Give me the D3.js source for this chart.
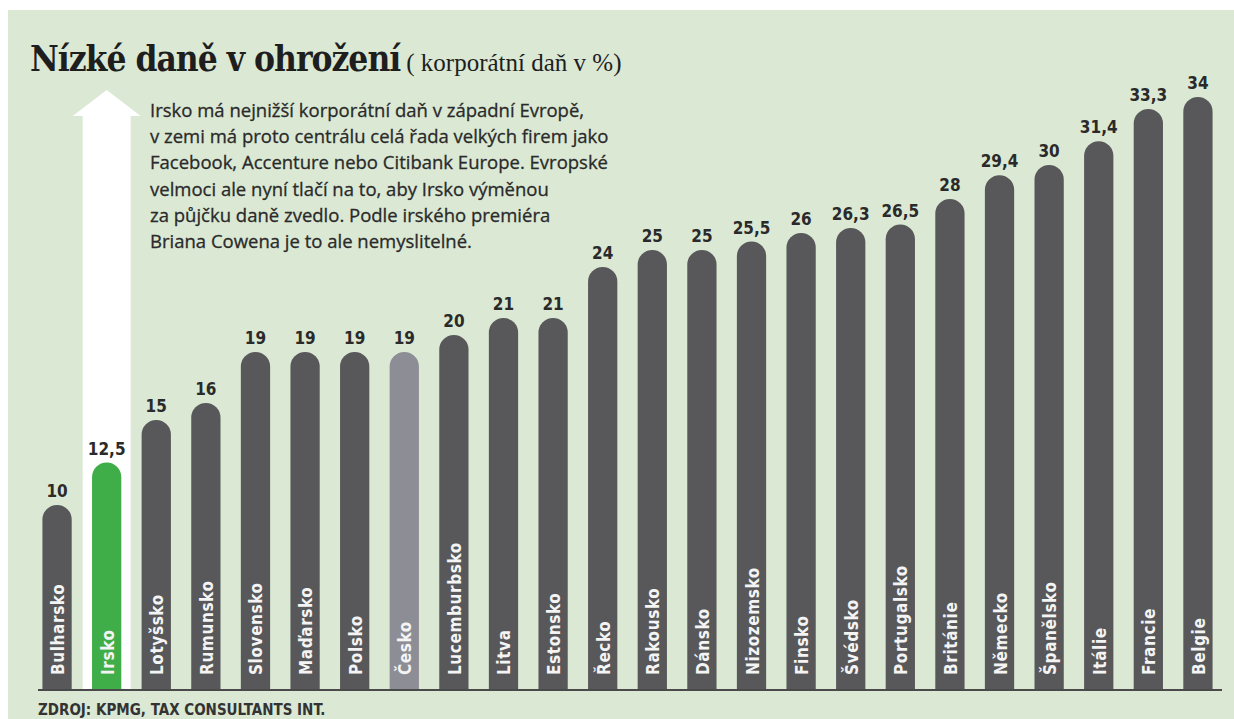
<!DOCTYPE html>
<html>
<head>
<meta charset="utf-8">
<script src="https://cdn.jsdelivr.net/npm/d3@7"></script>
<style>
  html, body { margin: 0; padding: 0; background: #fff; }
  svg { display: block; }
</style>
</head>
<body>
<svg id="graf" width="1234" height="719"></svg>
<script>
// data
const zeme = ["Bulharsko", "Irsko", "Lotyšsko", "Rumunsko", "Slovensko", "Maďarsko", "Polsko", "Česko",
  "Lucemburbsko", "Litva", "Estonsko", "Řecko", "Rakousko", "Dánsko", "Nizozemsko", "Finsko",
  "Švédsko", "Portugalsko", "Británie", "Německo", "Španělsko", "Itálie", "Francie", "Belgie"];
const dan = [10, 12.5, 15, 16, 19, 19, 19, 19, 20, 21, 21, 24, 25, 25, 25.5, 26, 26.3, 26.5, 28, 29.4, 30, 31.4, 33.3, 34];
const popisky = ["10", "12,5", "15", "16", "19", "19", "19", "19", "20", "21", "21", "24", "25", "25", "25,5", "26", "26,3", "26,5", "28", "29,4", "30", "31,4", "33,3", "34"];
const zvyraznena = "Irsko";
const domaci = "Česko";

const titulek = "Nízké daně v ohrožení";
const podtitulek = "( korporátní daň v %)";
const poznamka = [
  "Irsko má nejnižší korporátní daň v západní Evropě,",
  "v zemi má proto centrálu celá řada velkých firem jako",
  "Facebook, Accenture nebo Citibank Europe. Evropské",
  "velmoci ale nyní tlačí na to, aby Irsko výměnou",
  "za půjčku daně zvedlo. Podle irského premiéra",
  "Briana Cowena je to ale nemyslitelné."
];
const zdroj = "ZDROJ: KPMG, TAX CONSULTANTS INT.";

const barvy = { pozadi: "#dae8d4", sloupec: "#58585a", irsko: "#3fae49", cesko: "#8d8d95", text: "#2a2a2a" };
const pismo = "'DejaVu Sans Condensed', 'DejaVu Sans', sans-serif";

const svg = d3.select("#graf");
const zakladna = 690;

// green panel
svg.append("rect").attr("x", 8).attr("y", 10).attr("width", 1226).attr("height", 709).attr("fill", barvy.pozadi);

const x = d3.scaleBand().domain(zeme).range([33, 1222]).paddingInner(0.41).paddingOuter(0.19);
const y = d3.scaleLinear().domain([0, 34]).range([675, 97]);
const w = x.bandwidth();

// white arrow behind Irsko
const cx = x(zvyraznena) + w / 2;
const hrot = y(34) - 7;
svg.append("path")
  .attr("d", `M${cx - 24},${zakladna} L${cx - 24},${hrot + 26} L${cx - 34},${hrot + 26} L${cx},${hrot} L${cx + 34},${hrot + 26} L${cx + 24},${hrot + 26} L${cx + 24},${zakladna} Z`)
  .attr("fill", "#fff");

// bars with rounded tops
const data = zeme.map((z, i) => ({ zeme: z, hodnota: dan[i], popisek: popisky[i] }));
const r = w / 2;
svg.append("g").selectAll("path")
  .data(data)
  .enter()
  .append("path")
  .attr("d", d => {
    const x0 = x(d.zeme), top = y(d.hodnota);
    return `M${x0},${zakladna} L${x0},${top + r} A${r},${r} 0 0 1 ${x0 + w},${top + r} L${x0 + w},${zakladna} Z`;
  })
  .attr("fill", d => d.zeme === zvyraznena ? barvy.irsko : d.zeme === domaci ? barvy.cesko : barvy.sloupec);

// values above bars
svg.append("g").selectAll("text")
  .data(data)
  .enter()
  .append("text")
  .attr("x", d => x(d.zeme) + w / 2)
  .attr("y", d => y(d.hodnota) - 8)
  .attr("text-anchor", "middle")
  .attr("font-family", pismo)
  .attr("font-weight", "bold")
  .attr("font-size", 17)
  .attr("fill", barvy.text)
  .text(d => d.popisek);

// country names inside bars
svg.append("g").selectAll("text")
  .data(data)
  .enter()
  .append("text")
  .attr("transform", d => `translate(${x(d.zeme) + w / 2 + 1},${zakladna - 15}) rotate(-90)`)
  .attr("dominant-baseline", "central")
  .attr("font-family", pismo)
  .attr("font-weight", "bold")
  .attr("font-size", 17)
  .attr("letter-spacing", 0.6)
  .attr("fill", "#f4f4f4")
  .text(d => d.zeme);

// axis line
svg.append("line").attr("x1", 38).attr("x2", 1222).attr("y1", zakladna).attr("y2", zakladna)
  .attr("stroke", "#4a4a4a").attr("stroke-width", 2);

// title
const t = svg.append("text").attr("x", 30).attr("y", 71).attr("fill", "#1e1e1e");
t.append("tspan").attr("font-family", "'DejaVu Serif Condensed', 'DejaVu Serif', serif")
  .attr("font-weight", "bold").attr("font-size", 35).attr("letter-spacing", -1).text(titulek);
t.append("tspan").attr("dx", 6).attr("font-family", "'Liberation Serif', serif")
  .attr("font-size", 25).text(podtitulek);

// annotation
svg.append("text")
  .attr("font-family", "'Open Sans', sans-serif")
  .attr("font-size", 18.5)
  .attr("fill", barvy.text)
  .attr("stroke", barvy.text)
  .attr("stroke-width", 0.3)
  .selectAll("tspan")
  .data(poznamka)
  .enter()
  .append("tspan")
  .attr("x", 150)
  .attr("y", (d, i) => 117 + i * 26.2)
  .text(d => d);

// source
svg.append("text").attr("x", 38).attr("y", 715)
  .attr("font-family", pismo).attr("font-weight", "bold").attr("font-size", 15)
  .attr("fill", "#333").text(zdroj);
</script>
</body>
</html>
